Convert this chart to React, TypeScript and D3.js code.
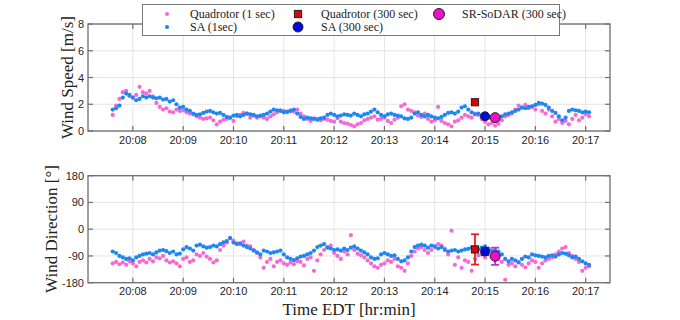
import React from "react";
import * as d3 from "d3";

// sample clock: seconds after 20:07:00, one value every 4 s
const startSec = 36;
const stepSec = 4;

// wind speed [m/s]
const speedQuad = [
  1.2, 1.9, 2.4, 2.9, 3.0, 2.6, 2.5, 2.7, 3.3, 2.9, 2.8, 3.0, 2.6, 2.1, 1.8, 1.6, 1.7, 1.45, 1.4, 1.6,
  1.5, 1.55, 1.4, 1.3, 1.25, 1.1, 1.0, 0.9, 0.95, 1.0, 0.8, 0.5, 0.7, 0.85, 0.9, 1.0, 0.75, 1.1, 1.2, 1.35,
  1.3, 1.0, 1.15, 1.0, 1.1,
  1.0, 0.9, 1.1, 1.25, 1.4, 1.55, 1.5, 1.4, 1.55, 1.45, 1.6, 1.3, 1.1, 0.9, 0.75, 0.95, 0.9, 0.8, 0.9, 0.85,
  0.75, 0.7, 0.95, 0.7, 0.6, 0.55, 0.45, 0.35, 0.5, 0.6, 0.8, 0.9, 1.0, 1.1, 0.85, 0.9, 1.0, 0.75, 0.6, 0.85,
  1.0, 1.85, 2.0, 1.6, 1.5, 1.4, 1.15, 1.05, 1.3,
  0.9, 0.7, 0.8, 1.8, 0.75, 0.6, 0.5, 0.35, 0.7, 0.8, 1.0, 1.2, 1.1, 1.0, 1.3, 1.2, 0.9, 0.7, 0.5, 0.6,
  0.4, 0.55, 0.8, 1.1, 1.2, 1.3, 1.6, 1.9, 1.75, 1.95, 1.7, 1.8, 1.6, 2.0, 1.5, 1.3, 1.6, 1.1, 0.7, 0.9,
  0.6, 0.75, 0.5, 0.9, 1.2, 0.8, 1.0, 1.25, 1.1,
];
const speedSA = [
  1.6, 1.7, 1.9, 2.5, 2.8, 2.7, 2.5, 2.3, 2.4, 2.6, 2.5, 2.6, 2.5, 2.45, 2.5, 2.35, 2.4, 2.2, 2.3, 2.0,
  1.75, 1.8, 1.6, 1.5, 1.3, 1.2, 1.25, 1.35, 1.45, 1.5, 1.4, 1.3, 1.35, 1.2, 1.05, 1.0, 1.15, 1.2, 1.1, 1.2,
  1.3, 1.25, 1.2, 1.1, 1.15,
  1.2, 1.3, 1.45, 1.6, 1.55, 1.5, 1.4, 1.45, 1.5, 1.6, 1.3, 1.05, 0.9, 1.0, 0.95, 0.9, 0.85, 0.95, 1.0, 1.2,
  1.3, 1.2, 1.1, 1.15, 1.25, 1.2, 1.15, 1.3, 1.2, 1.1, 1.25, 1.3, 1.45, 1.6, 1.4, 1.2, 1.1, 1.25, 1.3, 1.2,
  1.15, 1.1, 0.95, 0.9, 1.0, 1.3, 1.4, 1.2, 1.1,
  1.2, 1.1, 1.0, 0.95, 1.05, 1.2, 1.35, 1.4, 1.3, 1.45, 1.75, 1.85, 1.6, 1.4, 1.25, 1.3, 1.15, 1.1, 1.0, 1.05,
  1.0, 0.9, 1.1, 1.25, 1.3, 1.4, 1.5, 1.6, 1.75, 1.7, 1.8, 1.85, 1.95, 2.1, 2.05, 1.95, 1.75, 1.5, 1.35, 1.1,
  0.8, 1.0, 1.5, 1.6, 1.55, 1.5, 1.4, 1.45, 1.4,
];

// wind direction [deg]
const dirQuad = [
  -115, -110, -118, -112, -120, -108, -115, -125, -110, -105, -112, -100, -108, -95, -98, -90, -105, -112, -108, -115,
  -125, -100, -95, -110, -105, -85, -90, -80, -92, -100, -112, -105, -70, -55, -45, -30, -38, -48, -50, -42,
  -55, -58, -70, -80, -95,
  -130, -110, -100, -125, -110, -105, -115, -120, -112, -118, -108, -110, -122, -100, -95, -140, -105, -85, -70, -60,
  -55, -80, -90, -100, -75, -85, -20, -70, -82, -88, -95, -105, -115, -125, -130, -120, -115, -105, -110, -100,
  -125, -130, -140, -115, -90, -75, -65, -60, -70,
  -80, -70, -60, -50, -55, -65, -85, -5, -120, -95, -130, -105, -110, -140, -100, -88, -85, -95, -80, -75,
  -90, -100, -110, -170, -120, -115, -125, -110, -120, -128, -115, -105, -110, -130, -115, -105, -100, -95, -85, -75,
  -65, -60, -80, -90, -100, -110, -140, -130, -125,
];
const dirSA = [
  -75, -80, -90, -95, -100, -98, -105, -95, -90, -85, -82, -80, -85, -78, -72, -70, -74, -80, -75, -85,
  -82, -68, -60, -65, -72, -55, -52, -58, -62, -60, -55, -58, -50, -44, -40, -30, -45, -50, -48, -55,
  -60, -65, -72, -78, -85,
  -72, -75, -80, -78, -75, -72, -85, -95, -100, -104, -98, -92, -90, -85, -80, -72, -60, -55, -50, -62,
  -65, -70, -68, -72, -65, -70, -62, -58, -65, -72, -78, -85, -95, -100, -98, -85, -80, -85, -90, -88,
  -100, -108, -105, -95, -75, -60, -55, -52, -55,
  -62, -55, -58, -65, -60, -70, -75, -72, -70, -75, -72, -68, -66, -62, -70, -68, -62, -58, -65, -72,
  -70, -75, -85, -100, -108, -100, -105, -112, -100, -92, -95, -85, -88, -90, -92, -95, -90, -88, -92, -85,
  -80, -82, -88, -95, -92, -100, -108, -115, -120,
];

// 300 s averages: quadrotor, SA, SR-SoDAR
const avgSec = [468, 480, 492];
const avgSpeed = [2.15, 1.1, 1.0];
const avgDir = [-68, -75, -91];
const avgDirErr = [51, 12, 29];
const avgFill = ["#e00000", "#0008e0", "#ee10c8"];
const avgErrColor = ["#e82020", "#1020c0", "#c030e0"];

const speedTicks = [0, 2, 4, 6, 8];
const dirTicks = [-180, -90, 0, 90, 180];

const pink = "#f46ad2";
const blue = "#1c86f2";

const toDate = (s: number) => new Date(2017, 6, 1, 20, 7, 0, s * 1000);
const sampleTimes = speedSA.map((_, i) => toDate(startSec + i * stepSec));

const left = 88;
const right = 610;
const x = d3.scaleTime().domain([toDate(6.5), toDate(629)]).range([left, right]);
const timeTicks = x.ticks(d3.timeMinute.every(1) as any);
const fmt = d3.timeFormat("%H:%M");

const ySpeed = d3.scaleLinear().domain([0, 8]).range([131, 24]);
const yDir = d3.scaleLinear().domain([-180, 180]).range([282.7, 175.7]);

const axisColor = "#6e6e6e";
const gridColor = "#e4e4e4";
const tickFont = "'Liberation Sans', Arial, Helvetica, sans-serif";
const serif = "'Liberation Serif', 'Times New Roman', serif";

function Panel({ y, ticks }: { y: d3.ScaleLinear<number, number>; ticks: number[] }) {
  const [bottom, top] = y.range();
  return (
    <g>
      {timeTicks.map((t, i) => (
        <line key={"gx" + i} x1={x(t)} x2={x(t)} y1={top} y2={bottom} stroke={gridColor} />
      ))}
      {ticks.map((v) => (
        <line key={"gy" + v} x1={left} x2={right} y1={y(v)} y2={y(v)} stroke={gridColor} />
      ))}
    </g>
  );
}

function Frame({ y, ticks }: { y: d3.ScaleLinear<number, number>; ticks: number[] }) {
  const [bottom, top] = y.range();
  return (
    <g>
      <rect x={left} y={top} width={right - left} height={bottom - top} fill="none" stroke={axisColor} strokeWidth={1.3} />
      {timeTicks.map((t, i) => (
        <g key={"tx" + i}>
          <line x1={x(t)} x2={x(t)} y1={bottom} y2={bottom - 5} stroke={axisColor} strokeWidth={1.2} />
          <line x1={x(t)} x2={x(t)} y1={top} y2={top + 5} stroke={axisColor} strokeWidth={1.2} />
          <text x={x(t)} y={bottom + 12.5} textAnchor="middle" fontSize={11} fontFamily={tickFont} fill="#262626">
            {fmt(t)}
          </text>
        </g>
      ))}
      {ticks.map((v) => (
        <g key={"ty" + v}>
          <line x1={left} x2={left + 5} y1={y(v)} y2={y(v)} stroke={axisColor} strokeWidth={1.2} />
          <line x1={right} x2={right - 5} y1={y(v)} y2={y(v)} stroke={axisColor} strokeWidth={1.2} />
          <text x={left - 4} y={y(v) + 4} textAnchor="end" fontSize={11} fontFamily={tickFont} fill="#262626">
            {v}
          </text>
        </g>
      ))}
    </g>
  );
}

function AvgMarker({ i, cx, cy, r = 4.5 }: { i: number; cx: number; cy: number; r?: number }) {
  if (i === 0) {
    return <rect x={cx - 3.6} y={cy - 3.6} width={7.2} height={7.2} fill={avgFill[0]} stroke="#222" strokeWidth={1} />;
  }
  return <circle cx={cx} cy={cy} r={i === 2 ? r + 0.5 : r} fill={avgFill[i]} stroke="#222" strokeWidth={1} />;
}

const legendCols = [167, 298, 439];
const legendRows = [14, 27];
const legendItems = [
  { label: "Quadrotor (1 sec)", col: 0, row: 0, kind: "q" },
  { label: "SA (1sec)", col: 0, row: 1, kind: "s" },
  { label: "Quadrotor (300 sec)", col: 1, row: 0, kind: 0 },
  { label: "SA (300 sec)", col: 1, row: 1, kind: 1 },
  { label: "SR-SoDAR (300 sec)", col: 2, row: 0, kind: 2 },
];

export default function App() {
  const r = 2.1;
  return (
    <svg width={680} height={320} style={{ position: "absolute", left: 0, top: 0, background: "#fff" }}>
      <Panel y={ySpeed} ticks={speedTicks} />
      <Panel y={yDir} ticks={dirTicks} />

      {/* 1 s data */}
      <g fill={pink}>
        {speedQuad.map((v, i) => (
          <circle key={"sq" + i} cx={x(sampleTimes[i])} cy={ySpeed(v)} r={r} />
        ))}
        {dirQuad.map((v, i) => (
          <circle key={"dq" + i} cx={x(sampleTimes[i])} cy={yDir(v)} r={r} />
        ))}
      </g>
      <g fill={blue}>
        {speedSA.map((v, i) => (
          <circle key={"ss" + i} cx={x(sampleTimes[i])} cy={ySpeed(v)} r={r} />
        ))}
        {dirSA.map((v, i) => (
          <circle key={"ds" + i} cx={x(sampleTimes[i])} cy={yDir(v)} r={r} />
        ))}
      </g>

      {/* 300 s averages */}
      {avgSec.map((s, i) => (
        <AvgMarker key={"as" + i} i={i} cx={x(toDate(s))} cy={ySpeed(avgSpeed[i])} />
      ))}
      {avgSec.map((s, i) => {
        const cx = x(toDate(s));
        const y1 = yDir(avgDir[i] + avgDirErr[i]);
        const y2 = yDir(avgDir[i] - avgDirErr[i]);
        return (
          <g key={"ed" + i} stroke={avgErrColor[i]} strokeWidth={1.8}>
            <line x1={cx} x2={cx} y1={y1} y2={y2} />
            <line x1={cx - 4} x2={cx + 4} y1={y1} y2={y1} />
            <line x1={cx - 4} x2={cx + 4} y1={y2} y2={y2} />
          </g>
        );
      })}
      {avgSec.map((s, i) => (
        <AvgMarker key={"ad" + i} i={i} cx={x(toDate(s))} cy={yDir(avgDir[i])} />
      ))}

      <Frame y={ySpeed} ticks={speedTicks} />
      <Frame y={yDir} ticks={dirTicks} />

      {/* axis labels */}
      <text transform="translate(73,77.5) rotate(-90)" textAnchor="middle" fontSize={17} fontFamily={serif} fill="#222">
        Wind Speed [m/s]
      </text>
      <text transform="translate(56.5,229) rotate(-90)" textAnchor="middle" fontSize={17} fontFamily={serif} fill="#222">
        Wind Direction [°]
      </text>
      <text x={349} y={315} textAnchor="middle" fontSize={17} fontFamily={serif} fill="#222">
        Time EDT [hr:min]
      </text>

      {/* legend */}
      <rect x={142.5} y={4.5} width={417} height={31} fill="#fff" stroke="#7a7a7a" strokeWidth={1} />
      {legendItems.map((it, i) => {
        const cx = legendCols[it.col];
        const cy = legendRows[it.row];
        return (
          <g key={"lg" + i}>
            {it.kind === "q" && <circle cx={cx} cy={cy} r={2} fill={pink} />}
            {it.kind === "s" && <circle cx={cx} cy={cy} r={2} fill={blue} />}
            {typeof it.kind === "number" && <AvgMarker i={it.kind} cx={cx} cy={cy} r={5} />}
            <text x={cx + 23} y={cy + 4} fontSize={12} fontFamily={serif} fill="#222">
              {it.label}
            </text>
          </g>
        );
      })}
    </svg>
  );
}
